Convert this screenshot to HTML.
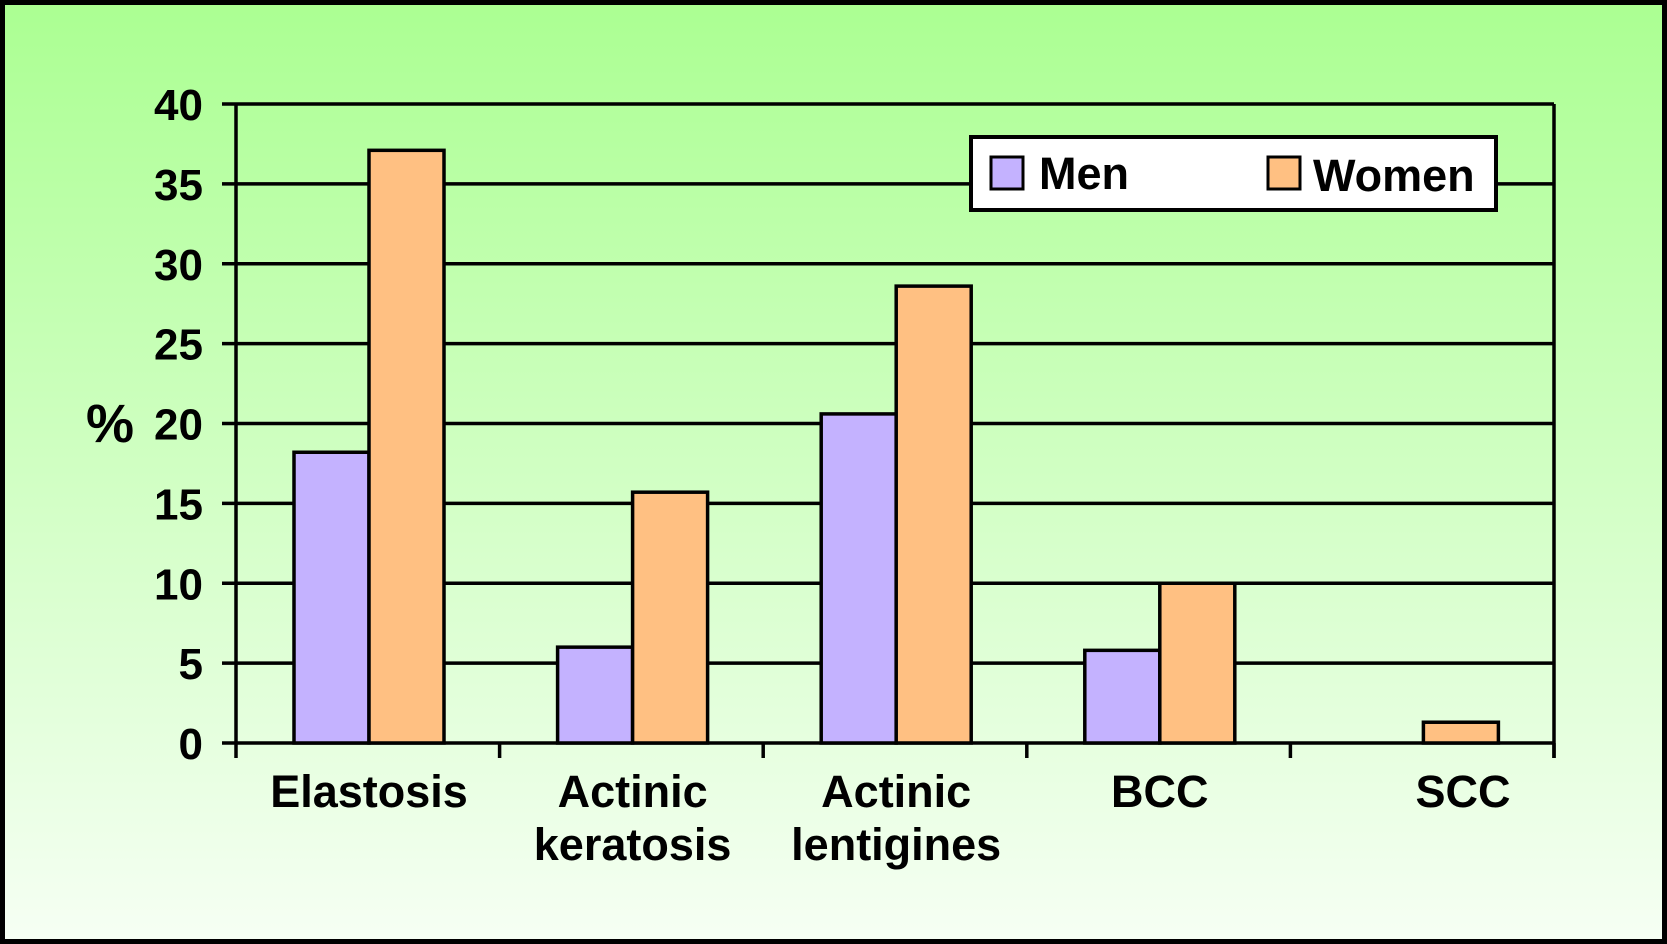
<!DOCTYPE html>
<html><head><meta charset="utf-8"><style>
html,body{margin:0;padding:0;}
body{width:1667px;height:944px;overflow:hidden;}
svg{display:block;font-family:"Liberation Sans",Arial,sans-serif;font-weight:bold;}
</style></head><body>
<svg id="chart" width="1667" height="944" viewBox="0 0 1667 944">
<defs><linearGradient id="bg" x1="0" y1="0" x2="0" y2="1">
<stop offset="0" stop-color="#abff92"/><stop offset="1" stop-color="#f6fff4"/></linearGradient></defs>
<rect x="2.5" y="2.5" width="1662" height="939" fill="url(#bg)" stroke="#000" stroke-width="5"/>
<g id="grid"></g>
<g id="bars"></g>
<g id="axes"></g>
<text x="110" y="442" font-size="54" text-anchor="middle">%</text>
<g>
<rect x="971" y="137" width="525" height="73" fill="#fff" stroke="#000" stroke-width="4"/>
<rect x="991" y="157" width="32" height="32" fill="#c4b2ff" stroke="#000" stroke-width="3"/>
<text x="1039" y="189" font-size="45">Men</text>
<rect x="1268" y="157" width="32" height="32" fill="#ffc082" stroke="#000" stroke-width="3"/>
<text x="1313" y="191" font-size="45">Women</text>
</g>
</svg>
<script>
const categories=[["Elastosis"],["Actinic","keratosis"],["Actinic","lentigines"],["BCC"],["SCC"]];
const menValues=[18.2,6,20.6,5.8,0];
const womenValues=[37.1,15.7,28.6,10,1.3];
const yTicks=[0,5,10,15,20,25,30,35,40];
const NS="http://www.w3.org/2000/svg";
const X0=236,X1=1554,Y0=743,Y1=104,YMAX=40;
const catW=(X1-X0)/categories.length;
function y(v){return Y0-(v/YMAX)*(Y0-Y1);}
function xc(i){return X0+i*catW;}
function mk(tag,attrs,parent){const e=document.createElementNS(NS,tag);for(const k in attrs)e.setAttribute(k,attrs[k]);document.getElementById(parent).appendChild(e);return e;}
yTicks.forEach(t=>{
  const l=mk('line',{x1:222,x2:X1,y1:y(t),y2:y(t),stroke:'#000','stroke-width':3.5},'grid');
  
  
  const tx=mk('text',{x:203,y:y(t)+16,'font-size':44,'text-anchor':'end'},'axes');
  tx.textContent=t;
  
  
});
const bw=75,off=58;
categories.forEach((c,i)=>{
  const m=mk('rect',{x:xc(i)+off,y:y(menValues[i]),width:bw,height:Y0-y(menValues[i]),fill:'#c4b2ff',stroke:'#000','stroke-width':3.5},'bars');
  
  
  const w=mk('rect',{x:xc(i)+off+bw,y:y(womenValues[i]),width:bw,height:Y0-y(womenValues[i]),fill:'#ffc082',stroke:'#000','stroke-width':3.5},'bars');
  
  
  const cx=(i===4)?1463:xc(i)+off+bw;
  c.forEach((line,j)=>{
    const t=mk('text',{x:cx,y:807+j*53,'font-size':45,'text-anchor':'middle'},'axes');
    t.textContent=line;
    
    
  });
});
for(let i=0;i<=categories.length;i++){
  const tk=mk('line',{x1:xc(i),x2:xc(i),y1:Y0,y2:Y0+15,stroke:'#000','stroke-width':3.5},'axes');
  
  
}
const ya=mk('line',{x1:X0,x2:X0,y1:Y1,y2:Y0,stroke:'#000','stroke-width':3.5},'axes');


const ya2=mk('line',{x1:X1,x2:X1,y1:Y1,y2:Y0+15,stroke:'#000','stroke-width':3.5},'axes');


</script>
</body></html>
